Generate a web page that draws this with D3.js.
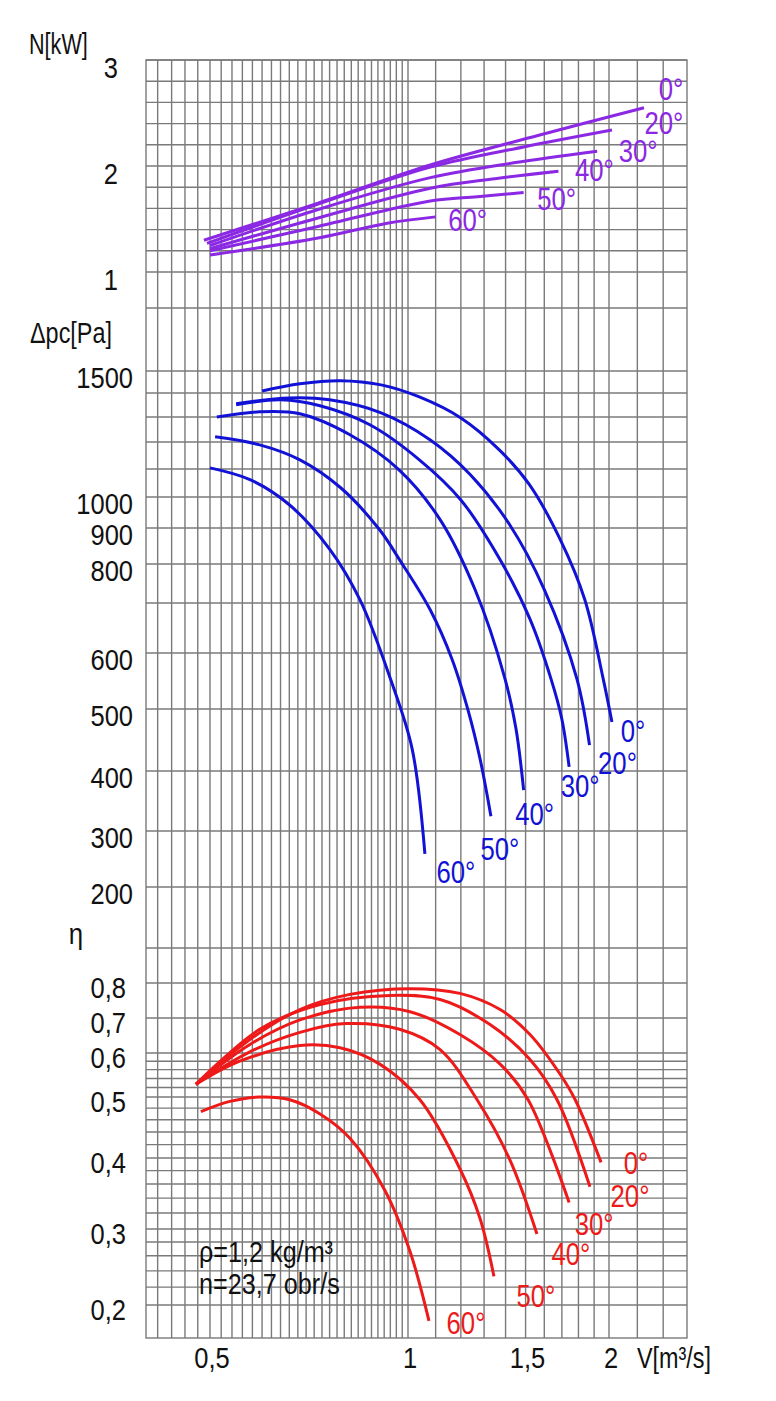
<!DOCTYPE html>
<html><head><meta charset="utf-8">
<script src="https://cdn.jsdelivr.net/npm/d3@7"></script>
<style>body{margin:0;background:#fff}svg{display:block}text{font-family:"Liberation Sans",Arial,sans-serif;}</style>
</head><body><svg id="c" width="776" height="1401"></svg>
<script>
// ---------- data ----------
const angles = ["0°","20°","30°","40°","50°","60°"];
// Power N [kW] vs V [m3/s]
const N_0  = [[0.49,1.30],[0.73,1.65],[1.08,2.01],[1.57,2.29],[2.25,2.55]];
const N_20 = [[0.495,1.27],[0.73,1.64],[1.08,1.99],[1.49,2.18],[2.02,2.34]];
const N_30 = [[0.50,1.25],[0.73,1.59],[1.08,1.89],[1.44,2.03],[1.92,2.14]];
const N_40 = [[0.50,1.22],[0.73,1.51],[1.08,1.79],[1.35,1.88],[1.68,1.95]];
const N_50 = [[0.50,1.20],[0.73,1.43],[1.08,1.67],[1.27,1.71],[1.49,1.75]];
const N_60 = [[0.50,1.16],[0.73,1.32],[0.93,1.46],[1.10,1.52]];
// Static pressure Δpc [Pa]
const P_0  = [[0.60,1409],[0.685,1441],[0.79,1455],[0.91,1436],[1.04,1383],[1.20,1296],[1.37,1170],[1.52,1043],[1.69,867],[1.84,708],[1.96,552],[2.02,477]];
const P_20 = [[0.548,1354],[0.66,1379],[0.76,1371],[0.91,1317],[1.08,1208],[1.24,1079],[1.42,910],[1.60,733],[1.79,552],[1.87,439]];
const P_30 = [[0.548,1350],[0.64,1371],[0.735,1346],[0.875,1268],[1.04,1133],[1.20,990],[1.374,811],[1.523,666],[1.637,552],[1.70,482],[1.743,406]];
const P_40 = [[0.512,1300],[0.595,1321],[0.685,1313],[0.816,1228],[0.97,1096],[1.117,926],[1.26,733],[1.397,552],[1.451,466],[1.49,365]];
const P_50 = [[0.509,1220],[0.595,1189],[0.685,1133],[0.79,1032],[0.906,894],[0.971,811],[1.079,686],[1.164,588],[1.23,498],[1.282,418],[1.331,322]];
const P_60 = [[0.50,1104],[0.575,1061],[0.66,974],[0.76,840],[0.845,708],[0.94,552],[1.014,434],[1.06,254]];
// Efficiency η
const E_0  = [[0.477,0.527],[0.575,0.637],[0.685,0.723],[0.816,0.766],[1.007,0.783],[1.196,0.769],[1.374,0.723],[1.523,0.651],[1.689,0.55],[1.78,0.495],[1.946,0.393]];
const E_20 = [[0.477,0.527],[0.595,0.666],[0.735,0.737],[0.938,0.763],[1.117,0.751],[1.327,0.68],[1.523,0.584],[1.672,0.495],[1.873,0.356]];
const E_30 = [[0.477,0.527],[0.575,0.623],[0.685,0.694],[0.845,0.729],[1.007,0.717],[1.196,0.651],[1.374,0.573],[1.513,0.495],[1.743,0.334]];
const E_40 = [[0.477,0.527],[0.575,0.603],[0.685,0.657],[0.803,0.683],[0.971,0.666],[1.117,0.609],[1.269,0.495],[1.421,0.397],[1.56,0.292]];
const E_50 = [[0.477,0.527],[0.555,0.58],[0.685,0.62],[0.788,0.614],[0.906,0.573],[1.042,0.495],[1.196,0.383],[1.282,0.313],[1.345,0.233]];
const E_60 = [[0.485,0.474],[0.536,0.492],[0.595,0.50],[0.661,0.495],[0.735,0.47],[0.816,0.43],[0.922,0.351],[1.007,0.266],[1.075,0.185]];

// tick labels
const xTicks = [0.5, 1, 1.5, 2];
const xTickLabels = ["0,5","1","1,5","2"];
const nTicks = [1,2,3];
const nTickLabels = ["1","2","3"];
const pTicks = [1500,1000,900,800,600,500,400,300,200];
const pTickLabels = ["1500","1000","900","800","600","500","400","300","200"];
const eTicks = [0.8,0.7,0.6,0.5,0.4,0.3,0.2];
const eTickLabels = ["0,8","0,7","0,6","0,5","0,4","0,3","0,2"];

// grid values
const xGrid = d3.range(0.42,0.995,0.02).concat(d3.range(1.0,1.95,0.1)).concat([2.0,2.2,2.4]);
const nGrid = d3.range(1.0,3.01,0.2);
const pGrid = [200,300,400,500,600,700,800,900,1000,1100,1200,1300,1400,1500,1800];
const eGrid = d3.range(0.2,0.595,0.02).concat([0.6,0.7,0.8,0.9]);

// ---------- scales ----------
const x = d3.scaleLog().domain([0.404,0.5,1,2,2.6]).range([146,210,408,609,687]);
const yN = d3.scaleLinear().domain([1,3]).range([272,60]);
const yP = d3.scaleLog().domain([200,300,400,500,600,700,800,900,1000,1100,1200,1300,1400,1500,1800])
  .range([887,831,771,709,653,603,564,528,497,469,442,417,393,371,308]);
const yE = d3.scaleLog().domain([0.17,0.2,0.3,0.4,0.5,0.6,0.7,0.8,0.9])
  .range([1338,1305,1229,1158,1097,1053,1018,983,948]);

const X0 = x.range()[0], X1 = x.range()[x.range().length-1];
const Y0 = yN.range()[1], Y1 = yE.range()[0];

const svg = d3.select("#c");
const FS = 30, SX = 0.85;
function txt(px, py, s, anchor, color, sx, fs){
  svg.append("text")
    .attr("transform",`translate(${px},${py}) scale(${sx||SX},1)`)
    .attr("text-anchor",anchor||"start")
    .attr("font-size",fs||FS)
    .attr("fill",color||"#111")
    .text(s);
}

// ---------- grid ----------
const grid = svg.append("g").attr("stroke","#7a7a7a").attr("stroke-width",1.4).attr("fill","none");
grid.selectAll("line.v").data(xGrid).join("line")
  .attr("x1",d=>x(d)).attr("x2",d=>x(d)).attr("y1",Y0).attr("y2",Y1);
const hLines = nGrid.map(v=>yN(v)).concat(pGrid.map(v=>yP(v))).concat(eGrid.map(v=>yE(v)));
grid.selectAll("line.h").data(hLines).join("line")
  .attr("x1",X0).attr("x2",X1).attr("y1",d=>d).attr("y2",d=>d);
grid.append("rect").attr("x",X0).attr("y",Y0).attr("width",X1-X0).attr("height",Y1-Y0);

// ---------- curves ----------
const groups = [
  {series:[N_0,N_20,N_30,N_40,N_50,N_60], y:yN, color:"#8b28e4",
   off:[[27,-18],[52,-6],[41,0],[36,-1],[33,7],[32,4]]},
  {series:[P_0,P_20,P_30,P_40,P_50,P_60], y:yP, color:"#1212d6",
   off:[[21,9],[28,18],[11,20],[11,24],[9,33],[31,19]]},
  {series:[E_0,E_20,E_30,E_40,E_50,E_60], y:yE, color:"#ee1a1a",
   off:[[35,1],[40,10],[25,22],[34,20],[42,20],[37,3]]}
];
groups.forEach(g=>{
  const line = d3.line().x(d=>x(d[0])).y(d=>g.y(d[1])).curve(d3.curveCatmullRom.alpha(0.5));
  g.series.forEach((s,i)=>{
    svg.append("path").attr("d",line(s)).attr("fill","none")
      .attr("stroke",g.color).attr("stroke-width",3).attr("stroke-linecap","butt");
    const e = s[s.length-1];
    txt(x(e[0])+g.off[i][0], g.y(e[1])+g.off[i][1]+10.5, angles[i], "middle", g.color, 0.83, 31);
  });
});

// ---------- axes labels ----------
xTicks.forEach((v,i)=>txt(x(v)+2, 1368, xTickLabels[i], "middle"));
nTicks.forEach((v,i)=>txt(118, yN(v)+18, nTickLabels[i], "end"));
pTicks.forEach((v,i)=>txt(133, yP(v)+17, pTickLabels[i], "end"));
eTicks.forEach((v,i)=>txt(126, yE(v)+15, eTickLabels[i], "end"));

txt(29, 54, "N[kW]", "start", "#111", 0.72, 30);
txt(30, 343, "Δpc[Pa]", "start", "#111", 0.78, 30);
txt(76, 944, "η", "middle", "#111", 0.86, 30);
txt(637, 1368, "V[m³/s]", "start", "#111", 0.78, 30);
txt(199, 1262, "ρ=1,2 kg/m³", "start", "#111", 0.84, 30);
txt(199, 1294, "n=23,7 obr/s", "start", "#111", 0.84, 30);
</script></body></html>
